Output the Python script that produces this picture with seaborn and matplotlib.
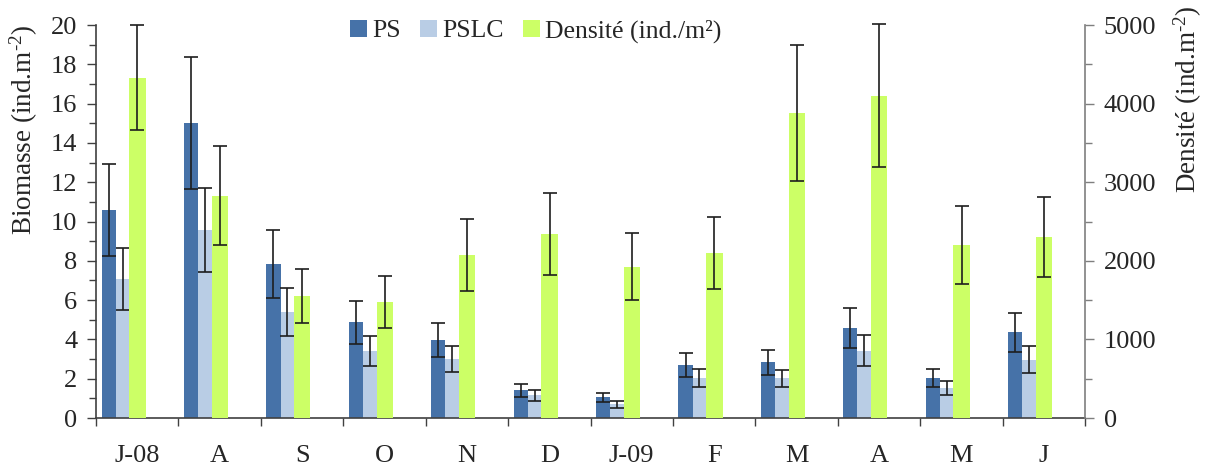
import numpy as np
import pandas as pd
import seaborn as sns
import matplotlib.pyplot as plt
from matplotlib.ticker import MultipleLocator, FixedLocator

# Monthly sampling, July 2008 to June 2009
mois = ["J-08", "A", "S", "O", "N", "D", "J-09", "F", "M", "A", "M", "J"]

# Biomass (left axis) with standard errors
ps = [10.6, 15.0, 7.85, 4.87, 3.97, 1.41, 1.05, 2.70, 2.84, 4.58, 2.03, 4.36]
ps_err = [2.35, 3.35, 1.74, 1.09, 0.89, 0.34, 0.24, 0.60, 0.64, 1.04, 0.46, 0.98]
pslc = [7.08, 9.58, 5.40, 3.40, 3.00, 1.17, 0.71, 2.03, 2.02, 3.43, 1.52, 2.96]
pslc_err = [1.58, 2.15, 1.21, 0.77, 0.66, 0.28, 0.18, 0.46, 0.44, 0.77, 0.35, 0.68]

# Density (right axis) with standard errors
densite = [4330, 2830, 1555, 1475, 2075, 2345, 1925, 2100, 3885, 4100, 2200, 2305]
densite_err = [665, 630, 347, 330, 462, 522, 428, 462, 865, 910, 492, 512]

sns.set_style("ticks")
plt.rcParams["font.family"] = ["Liberation Serif", "DejaVu Serif"]
plt.rcParams["mathtext.fontset"] = "custom"
plt.rcParams["mathtext.rm"] = "Liberation Serif"
plt.rcParams["mathtext.it"] = "Liberation Serif:italic"
plt.rcParams["mathtext.bf"] = "Liberation Serif:bold"

c_ps, c_pslc, c_dens = "#4672A8", "#B9CDE5", "#CCFF66"
err_kw = dict(fmt="none", ecolor="#1e1e1e", elinewidth=1.2, capsize=5.2, capthick=1.2, zorder=5)

df = pd.DataFrame({"mois": mois, "ps": ps, "ps_err": ps_err, "pslc": pslc,
                   "pslc_err": pslc_err, "densite": densite, "densite_err": densite_err})
pos = np.arange(len(mois))

# bar layout inside each month slot: (offset of bar centre, bar width)
layout = {"ps": (-0.347, 0.172), "pslc": (-0.178, 0.165), "densite": (0.003, 0.198)}

fig = plt.figure(figsize=(12.05, 4.70), dpi=100)
ax = fig.add_axes([0.0797, 0.1106, 0.8207, 0.8362])
ax2 = ax.twinx()

for key, color, label, axis in [("ps", c_ps, "PS", ax), ("pslc", c_pslc, "PSLC", ax),
                                ("densite", c_dens, "Densité (ind./m²)", ax2)]:
    off, w = layout[key]
    x = pos + off
    sns.barplot(x=x, y=df[key], native_scale=True, width=w, color=color, saturation=1,
                errorbar=None, linewidth=0, label=label, ax=axis)
    eb = axis.errorbar(x, df[key], yerr=df[key + "_err"], **err_kw)
    for art in eb.lines[1] + eb.lines[2]:
        art.set_clip_on(False)

for a in (ax, ax2):
    a.set_xlim(-0.5, len(mois) - 0.5)
    if a.get_legend() is not None:
        a.get_legend().remove()

ax.set_ylim(0, 20)
ax2.set_ylim(0, 5000)

# x axis: month labels centred in each slot, ticks on slot boundaries
ax.xaxis.set_major_locator(FixedLocator(pos))
ax.set_xticklabels(mois, fontsize=19)
ax.xaxis.set_minor_locator(FixedLocator(np.arange(-0.5, len(mois), 1.0)))
ax.tick_params(axis="x", which="major", length=0, pad=19.5)
ax.tick_params(axis="x", which="minor", length=6, width=1.0, color="#404040", direction="out")
ax.set_xlabel("")

# left axis
ax.yaxis.set_major_locator(MultipleLocator(2))
ax.yaxis.set_minor_locator(MultipleLocator(1))
ax.tick_params(axis="y", which="major", length=6.5, width=1.0, labelsize=19, pad=7, color="#404040")
ax.tick_params(axis="y", which="minor", length=5, width=1.0, color="#404040")
ax.set_ylabel(r"Biomasse (ind.m$^{\text{-}2}$)", fontsize=19.5, loc="top", labelpad=8)

# right axis
ax2.yaxis.set_major_locator(MultipleLocator(1000))
ax2.yaxis.set_minor_locator(MultipleLocator(500))
ax2.tick_params(axis="y", which="major", length=6.5, width=1.0, labelsize=19, pad=7, color="#7f7f7f")
ax2.tick_params(axis="y", which="minor", length=5, width=1.0, color="#7f7f7f")
ax2.set_ylabel(r"Densité (ind.m$^{\text{-}2}$)", fontsize=19.5, loc="top", labelpad=11)
ax2.yaxis.label.set_y(1.05)

ax.spines["top"].set_visible(False)
ax.spines["right"].set_visible(False)
ax.spines["left"].set_color("#404040")
ax.spines["bottom"].set_color("#404040")
ax2.spines["top"].set_visible(False)
ax2.spines["left"].set_visible(False)
ax2.spines["bottom"].set_visible(False)
ax2.spines["right"].set_color("#7f7f7f")
for a in (ax, ax2):
    for s in a.spines.values():
        s.set_linewidth(1.2)

h1, l1 = ax.get_legend_handles_labels()
h2, l2 = ax2.get_legend_handles_labels()
fig.legend(h1 + h2, l1 + l2, loc="upper center", bbox_to_anchor=(0.4444, 1.008), ncol=3,
           frameon=False, fontsize=18.5, handlelength=0.68, handleheight=0.68,
           handletextpad=0.18, columnspacing=0.75)

fig.savefig("out.png", dpi=100)
